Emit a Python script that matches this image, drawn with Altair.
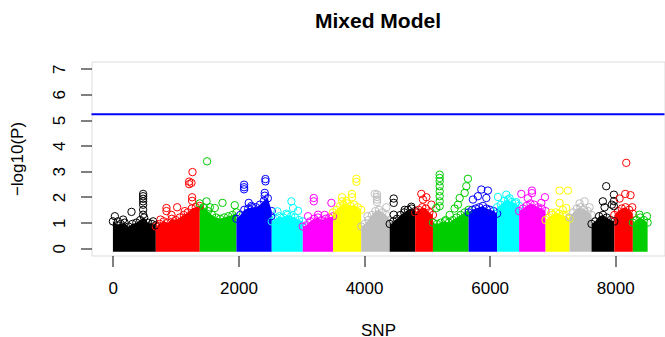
import altair as alt
import pandas as pd

# ---------------- data ----------------
N_SNP = 8515
CHR_START = [1, 684, 1384, 1968, 2530, 3024, 3506, 3955, 4408, 4814,
             5097, 5665, 6119, 6469, 6890, 7272, 7622, 7985, 8280]
PALETTE = ["#000000", "#FF0000", "#00CD00", "#0000FF",
           "#00FFFF", "#FF00FF", "#FFFF00", "#BEBEBE"]

# top of the dense band of each chromosome, read at evenly spaced positions
ENV = [
    [1.05, 0.9, 0.95, 1.0, 0.85, 0.95, 1.0, 1.1, 1.2, 1.0, 0.95, 0.9],
    [0.85, 0.95, 1.05, 1.0, 1.15, 1.1, 1.2, 1.3, 1.4, 1.55, 1.6, 1.65],
    [1.75, 1.6, 1.45, 1.3, 1.2, 1.15, 1.2, 1.25, 1.3, 1.4],
    [1.15, 1.3, 1.5, 1.55, 1.6, 1.6, 1.7, 1.85, 1.95, 1.45],
    [1.05, 1.15, 1.25, 1.2, 1.3, 1.25, 1.2, 1.1, 1.05],
    [0.85, 0.9, 1.05, 1.15, 1.2, 1.1, 1.15, 1.2, 1.25],
    [1.4, 1.5, 1.65, 1.7, 1.75, 1.65, 1.7, 1.6, 1.5],
    [0.85, 0.95, 1.1, 1.3, 1.45, 1.5, 1.4, 1.3, 1.1],
    [0.95, 1.05, 1.15, 1.3, 1.4, 1.5, 1.55, 1.45],
    [1.4, 1.5, 1.6, 1.55, 1.4, 1.3],
    [1.0, 0.95, 1.0, 1.05, 1.0, 1.1, 1.2, 1.3, 1.4, 1.5],
    [1.4, 1.5, 1.55, 1.6, 1.65, 1.55, 1.5, 1.45, 1.35],
    [1.6, 1.7, 1.85, 1.9, 1.8, 1.75, 1.65],
    [1.45, 1.55, 1.65, 1.75, 1.7, 1.6, 1.55, 1.45],
    [1.1, 1.2, 1.3, 1.4, 1.35, 1.3, 1.25, 1.15],
    [1.2, 1.4, 1.55, 1.6, 1.5, 1.45, 1.3],
    [0.95, 1.05, 1.25, 1.3, 1.2, 1.1, 1.05],
    [1.3, 1.45, 1.55, 1.6, 1.5, 1.35],
    [1.0, 1.1, 1.2, 1.1, 1.0],
]

# isolated SNPs standing above the band
PEAK_SNP = [
    32, 80, 164, 297, 482, 482, 482, 482, 482, 482, 482, 642,
    759, 854, 854, 934, 1024, 1146, 1215, 1215, 1252, 1268, 1262, 1262,
    1501, 1491, 1544, 1623, 1746, 1941,
    2090, 2090, 2090, 2164, 2207, 2419, 2419, 2430, 2430, 2520,
    2621, 2764, 2843, 2869, 2949,
    3108, 3199, 3199, 3267, 3374, 3480,
    3649, 3649, 3719, 3808, 3808, 3878, 3878,
    4053, 4169, 4206, 4206, 4206, 4206, 4355,
    4472, 4472, 4472, 4647, 4753,
    4912, 4938, 4992, 5072,
    5151, 5204, 5204, 5204, 5204, 5204, 5204, 5204, 5204, 5299, 5363,
    5442, 5495, 5522, 5602, 5628, 5654,
    5734, 5813, 5867, 5947, 5972,
    6132, 6265, 6318, 6424,
    6504, 6609, 6673, 6673, 6822, 6880,
    6981, 7113, 7113, 7166, 7220, 7246,
    7432, 7511, 7591,
    7802, 7830, 7856, 7946, 7978, 7978, 7978,
    8068, 8159, 8175, 8243, 8270,
    8386, 8505,
]
PEAK_LOGP = [
    1.25, 1.05, 1.12, 1.42, 2.12, 2.03, 1.93, 1.83, 1.7, 1.5, 1.31, 1.05,
    1.12, 1.57, 1.45, 1.3, 1.6, 1.45, 2.6, 2.5, 2.55, 2.97, 1.99, 1.85,
    3.39, 1.83, 1.6, 1.57, 1.77, 1.68,
    2.48, 2.38, 2.3, 1.77, 1.65, 2.16, 2.05, 2.7, 2.61, 1.25,
    1.44, 1.35, 1.83, 1.57, 1.46,
    1.25, 1.96, 1.83, 1.31, 1.3, 1.77,
    1.99, 1.83, 1.85, 2.12, 1.99, 2.71, 2.59,
    1.25, 2.12, 2.1, 2.0, 1.9, 1.8, 1.6,
    1.94, 1.77, 1.31, 1.5, 1.62,
    2.12, 1.9, 1.99, 1.7,
    1.57, 2.87, 2.74, 2.61, 2.42, 2.22, 2.03, 1.83, 1.64, 1.1, 1.3,
    1.55, 1.7, 1.96, 2.16, 2.42, 2.71,
    1.9, 2.03, 2.29, 1.96, 2.25,
    2.0, 2.09, 1.95, 1.8,
    2.12, 1.95, 2.25, 2.15, 1.77, 1.99,
    1.38, 2.25, 1.77, 1.5, 1.57, 2.25,
    1.75, 1.83, 1.6,
    1.83, 1.6, 2.42, 1.7, 2.09, 1.84, 1.64,
    1.94, 2.12, 3.33, 2.07, 1.6,
    1.31, 1.25,
]
THRESHOLD = 5.22
X_TICKS = [0, 2000, 4000, 6000, 8000]
Y_TICKS = [0, 1, 2, 3, 4, 5, 6, 7]

# ---------------- tables ----------------
bounds = CHR_START + [N_SNP]
env_rows = []
for c, vals in enumerate(ENV):
    s, e = bounds[c], bounds[c + 1]
    n = len(vals)
    for k, v in enumerate(vals):
        env_rows.append({"chr": c + 1, "snp": s + (e - s) * k / (n - 1),
                         "logp": v, "color": PALETTE[c % len(PALETTE)]})
env_df = pd.DataFrame(env_rows)

peak_rows = []
for snp, lp in zip(PEAK_SNP, PEAK_LOGP):
    c = max(i for i, st in enumerate(CHR_START) if st <= snp)
    peak_rows.append({"chr": c + 1, "snp": snp, "logp": lp,
                      "color": PALETTE[c % len(PALETTE)]})
peak_df = pd.DataFrame(peak_rows)

FONT = "Liberation Sans"

x_scale = alt.Scale(domain=[-340, 8784], nice=False, zero=False)
y_scale = alt.Scale(domain=[-0.28, 7.28], nice=False, zero=False)

x_axis = alt.Axis(values=X_TICKS, format="d", title="SNP", grid=False, domain=False,
                  tickSize=11, tickColor="black", tickWidth=1,
                  labelFontSize=17, labelFont=FONT, labelColor="black",
                  labelBaseline="alphabetic", labelPadding=27, labelOverlap=False,
                  titleFontSize=17, titleFont=FONT, titleFontWeight="normal",
                  titleColor="black", titleBaseline="alphabetic", titleY=79.5)
y_axis = alt.Axis(values=Y_TICKS, format="d", title="\u2212log10(P)", grid=False, domain=False,
                  tickSize=11, tickColor="black", tickWidth=1,
                  labelFontSize=17, labelFont=FONT, labelColor="black",
                  labelAngle=270, labelAlign="center", labelBaseline="alphabetic",
                  labelPadding=16, labelOverlap=False,
                  titleFontSize=17, titleFont=FONT, titleFontWeight="normal",
                  titleColor="black", titleAngle=270, titleAlign="center",
                  titleBaseline="middle", titleX=-74, titleY=97)

X = alt.X("snp:Q", scale=x_scale, axis=x_axis)
Y = alt.Y("logp:Q", scale=y_scale, axis=y_axis)

band = alt.Chart(env_df).mark_area(opacity=1, interpolate="linear").encode(
    x=X, y=Y, y2=alt.datum(-0.13),
    color=alt.Color("color:N", scale=None),
    detail="chr:N",
)

env_pts = alt.Chart(env_df).mark_point(shape="circle", filled=False, size=55,
                                       strokeWidth=1, opacity=1).encode(
    x=X, y=Y, color=alt.Color("color:N", scale=None))

peaks = alt.Chart(peak_df).mark_point(shape="circle", filled=False, size=55,
                                      strokeWidth=1, opacity=1).encode(
    x=X, y=Y, color=alt.Color("color:N", scale=None))

thr = alt.Chart(pd.DataFrame({"logp": [THRESHOLD]})).mark_rule(
    color="#0000FF", strokeWidth=2).encode(y=Y)

chart = alt.layer(band, env_pts, peaks, thr).properties(
    width=573, height=194,
    title=alt.TitleParams("Mixed Model", fontSize=21, fontWeight="bold", font=FONT,
                          anchor="middle", baseline="alphabetic", offset=13,
                          color="black"),
    autosize=alt.AutoSizeParams(type="none"),
    padding={"left": 91.5, "top": 61.5, "right": 0, "bottom": 81},
).configure_view(stroke="black", strokeWidth=1).configure(background="white")

chart.save("out.html", embed_options={"renderer": "svg", "actions": False})
